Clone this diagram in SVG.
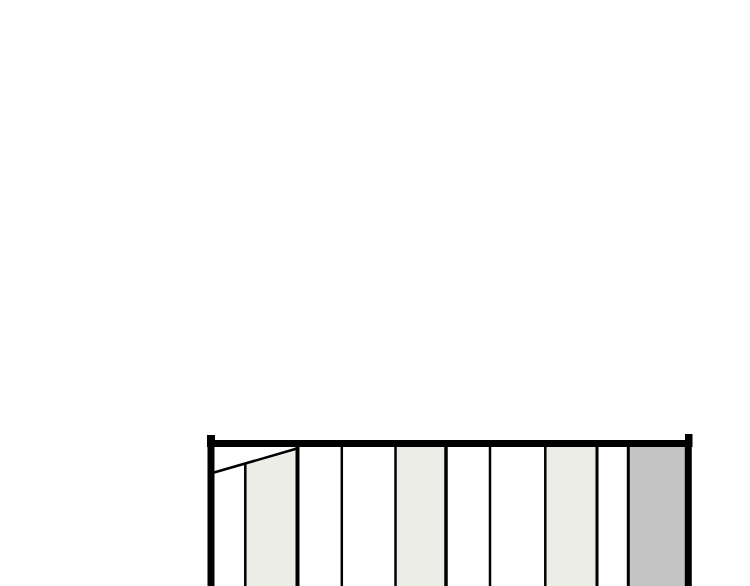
<svg xmlns="http://www.w3.org/2000/svg" width="750" height="586" viewBox="0 0 750 586">
<style>
.wall{stroke:#000;fill:none}
.light{fill:#EDEDE8}
.grey{fill:#C4C4C4}
</style>
<rect x="0" y="0" width="750" height="586" fill="#fff"/>
<g id="fills">
<polygon class="light" points="246,463 296,448 296,586 246,586"/>
<rect class="light" x="396" y="447" width="49" height="139"/>
<rect class="light" x="546" y="447" width="50" height="139"/>
<rect class="grey" x="629" y="447" width="56" height="139"/>
</g>
<g id="partitions" class="wall">
<line x1="214" y1="472.5" x2="297" y2="448.5" stroke-width="2.5"/>
<line x1="245.3" y1="463" x2="245.3" y2="586" stroke-width="2.5"/>
<line x1="297.5" y1="446" x2="297.5" y2="586" stroke-width="4"/>
<line x1="341.8" y1="446" x2="341.8" y2="586" stroke-width="2.5"/>
<line x1="395.5" y1="446" x2="395.5" y2="586" stroke-width="2.5"/>
<line x1="446" y1="446" x2="446" y2="586" stroke-width="3.5"/>
<line x1="490" y1="446" x2="490" y2="586" stroke-width="2.5"/>
<line x1="545.3" y1="446" x2="545.3" y2="586" stroke-width="2.5"/>
<line x1="597" y1="446" x2="597" y2="586" stroke-width="3"/>
<line x1="628.3" y1="446" x2="628.3" y2="586" stroke-width="3"/>
</g>
<g id="outer" class="wall">
<line x1="211" y1="443.5" x2="211" y2="586" stroke-width="7"/>
<line x1="688.3" y1="443.5" x2="688.3" y2="586" stroke-width="7"/>
<line x1="207" y1="443.5" x2="692" y2="443.5" stroke-width="7"/>
</g>
<g id="caps">
<rect x="207" y="435" width="8" height="12" fill="#000"/>
<rect x="685" y="434" width="7.5" height="13" fill="#000"/>
</g>
</svg>
